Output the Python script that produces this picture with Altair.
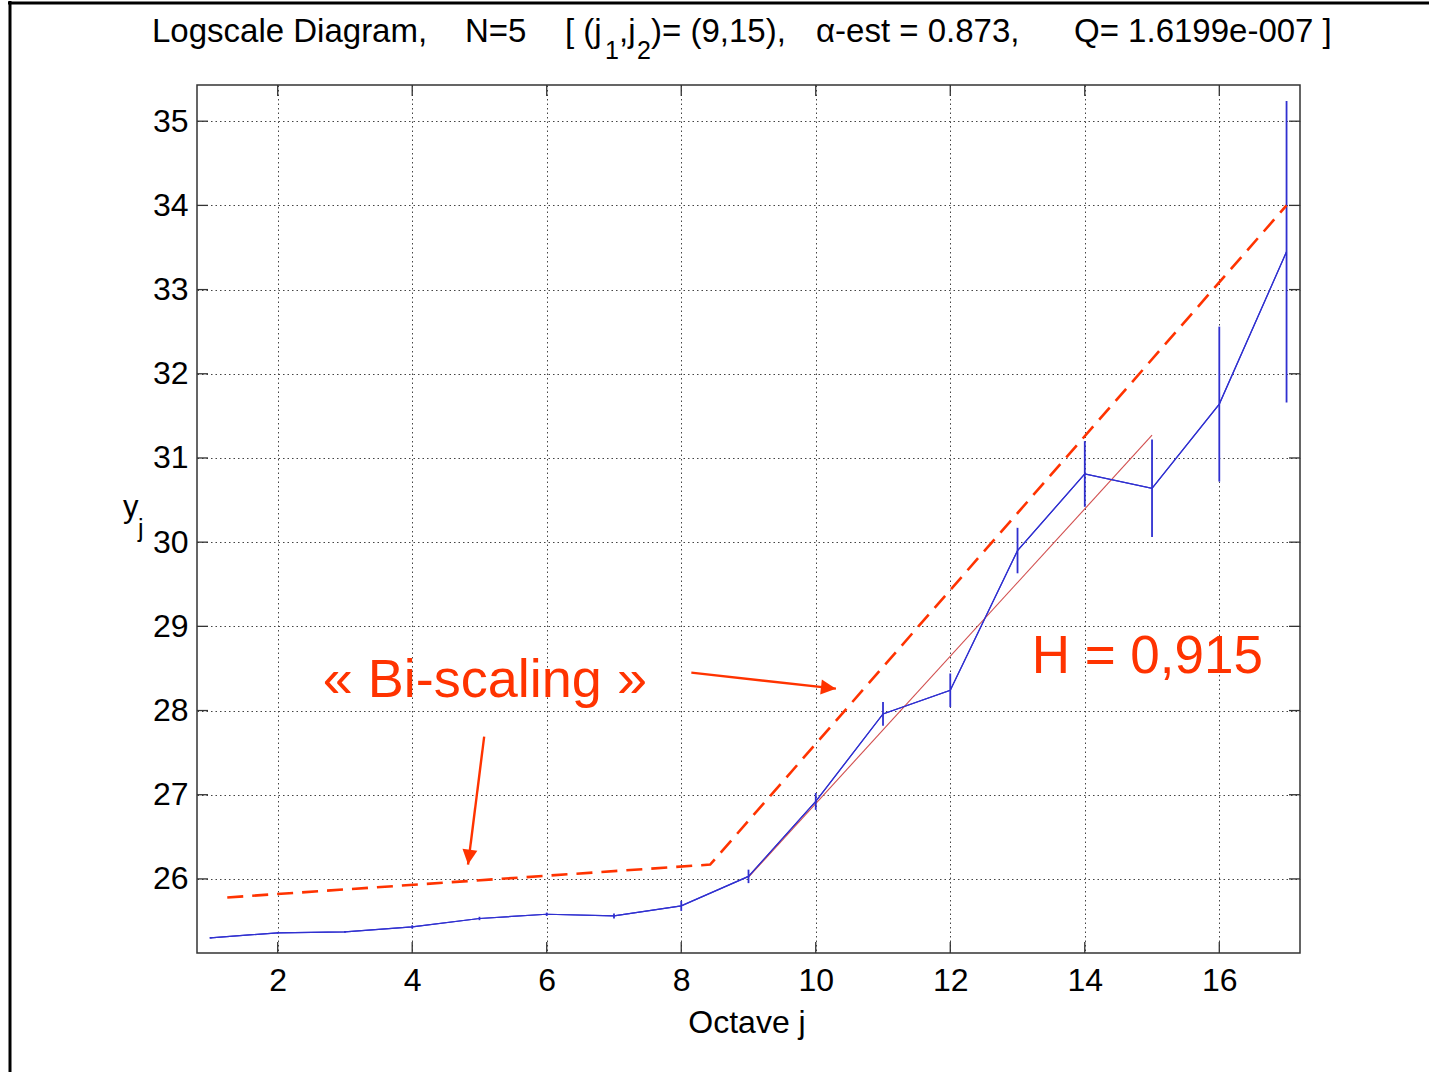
import altair as alt
import pandas as pd
import numpy as np

# ---------------- data ----------------
octave = list(range(1, 18))
yj = [25.30, 25.36, 25.37, 25.43, 25.53, 25.58, 25.56, 25.68, 26.03, 26.92,
      27.96, 28.24, 29.90, 30.81, 30.64, 31.64, 33.45]
yerr = [0.01, 0.01, 0.01, 0.02, 0.02, 0.02, 0.03, 0.06, 0.08, 0.10,
        0.14, 0.20, 0.27, 0.39, 0.58, 0.92, 1.79]

fit_j = [9, 15]
fit_y = [26.02, 31.27]

dash_j = [1.25, 8.43, 17.0]
dash_y = [25.78, 26.17, 34.0]

arrow_j0 = [5.07, 8.15]
arrow_y0 = [27.69, 28.45]
arrow_j1 = [4.83, 10.30]
arrow_y1 = [26.17, 28.26]

x_ticks = [2, 4, 6, 8, 10, 12, 14, 16]
y_ticks = [26, 27, 28, 29, 30, 31, 32, 33, 34, 35]

x_dom = [0.8, 17.2]
y_dom = [25.12, 35.43]

W, H = 1103, 868
RED = "#ff3300"
BLUE = "#3030d0"

xs = alt.Scale(domain=x_dom, nice=False, zero=False)
ys = alt.Scale(domain=y_dom, nice=False, zero=False)

main_df = pd.DataFrame({"j": octave, "y": yj,
                        "lo": np.array(yj) - np.array(yerr),
                        "hi": np.array(yj) + np.array(yerr)})

# base layer with axes / grid
base = alt.Chart(main_df).mark_line(color=BLUE, strokeWidth=1.2).encode(
    x=alt.X("j:Q", scale=xs, title=None,
            axis=alt.Axis(values=x_ticks, grid=True, labelPadding=12,
                          format="d")),
    y=alt.Y("y:Q", scale=ys, title=None,
            axis=alt.Axis(values=y_ticks, grid=True, labelPadding=9,
                          format="d")),
)

ebars = alt.Chart(main_df).mark_rule(color=BLUE, strokeWidth=1.8).encode(
    x=alt.X("j:Q", scale=xs),
    y=alt.Y("lo:Q", scale=ys),
    y2="hi:Q",
)

fit = alt.Chart(pd.DataFrame({"j": fit_j, "y": fit_y})).mark_line(
    color="#cc3a3a", strokeWidth=1.1, opacity=0.9
).encode(x=alt.X("j:Q", scale=xs), y=alt.Y("y:Q", scale=ys))

dashed = alt.Chart(pd.DataFrame({"j": dash_j, "y": dash_y})).mark_line(
    color=RED, strokeWidth=2.6, strokeDash=[16, 9]
).encode(x=alt.X("j:Q", scale=xs), y=alt.Y("y:Q", scale=ys))

# arrows
sx = W / (x_dom[1] - x_dom[0])
sy = H / (y_dom[1] - y_dom[0])
dxp = (np.array(arrow_j1) - np.array(arrow_j0)) * sx
dyp = -(np.array(arrow_y1) - np.array(arrow_y0)) * sy
ang = (np.degrees(np.arctan2(dxp, -dyp)) + 360) % 360
arr_df = pd.DataFrame({"j0": arrow_j0, "y0": arrow_y0, "j1": arrow_j1,
                       "y1": arrow_y1, "ang": ang})

arrow_lines = alt.Chart(arr_df).mark_rule(color=RED, strokeWidth=2.4).encode(
    x=alt.X("j0:Q", scale=xs), y=alt.Y("y0:Q", scale=ys),
    x2="j1:Q", y2="y1:Q",
)
arrow_heads = alt.Chart(arr_df).mark_point(
    shape="M0,0L0.5,1L-0.5,1Z", filled=True, size=900, color=RED, opacity=1
).encode(
    x=alt.X("j1:Q", scale=xs), y=alt.Y("y1:Q", scale=ys),
    angle=alt.Angle("ang:Q", scale=None),
)

# annotation texts
ann_df = pd.DataFrame({"j": [5.08, 14.93], "y": [28.16, 28.45],
                       "t": ["« Bi-scaling »", "H = 0,915"]})
bi_txt = alt.Chart(ann_df.iloc[[0]]).mark_text(
    color=RED, fontSize=54, font="Liberation Sans Narrow, Arial Narrow, Liberation Sans",
    align="center", baseline="alphabetic"
).encode(x=alt.X("j:Q", scale=xs), y=alt.Y("y:Q", scale=ys), text="t:N")
h_txt = alt.Chart(ann_df.iloc[[1]]).mark_text(
    color=RED, fontSize=53, font="Liberation Sans",
    align="center", baseline="alphabetic"
).encode(x=alt.X("j:Q", scale=xs), y=alt.Y("y:Q", scale=ys), text="t:N")

# inward ticks on all four sides
xt_df = pd.DataFrame({"j": x_ticks})
yt_df = pd.DataFrame({"y": y_ticks})
TK = 11
tick_col = "#333333"
t_bottom = alt.Chart(xt_df).mark_rule(color=tick_col, strokeWidth=1.3).encode(
    x=alt.X("j:Q", scale=xs), y=alt.value(H), y2=alt.value(H - TK))
t_top = alt.Chart(xt_df).mark_rule(color=tick_col, strokeWidth=1.3).encode(
    x=alt.X("j:Q", scale=xs), y=alt.value(0), y2=alt.value(TK))
t_left = alt.Chart(yt_df).mark_rule(color=tick_col, strokeWidth=1.3).encode(
    y=alt.Y("y:Q", scale=ys), x=alt.value(0), x2=alt.value(TK))
t_right = alt.Chart(yt_df).mark_rule(color=tick_col, strokeWidth=1.3).encode(
    y=alt.Y("y:Q", scale=ys), x=alt.value(W), x2=alt.value(W - TK))

# title segments (main text and subscripts)
title_parts = [
    ("Logscale Diagram,", -45, -43, 33),
    ("N=5", 268, -43, 33),
    ("[ (j", 368, -43, 33),
    ("1", 408, -26, 25),
    (",j", 422, -43, 33),
    ("2", 440, -26, 25),
    (")= (9,15),", 454, -43, 33),
    ("α-est = 0.873,", 619, -43, 33),
    ("Q= 1.6199e-007 ]", 877, -43, 33),
]
title_layers = []
for txt, px, py, fs in title_parts:
    title_layers.append(
        alt.Chart(pd.DataFrame({"t": [txt]})).mark_text(
            align="left", baseline="alphabetic", fontSize=fs,
            font="Liberation Sans", color="black"
        ).encode(x=alt.value(px), y=alt.value(py), text="t:N")
    )

# axis titles
xlab = alt.Chart(pd.DataFrame({"t": ["Octave j"]})).mark_text(
    align="center", baseline="alphabetic", fontSize=32,
    font="Liberation Sans", color="black"
).encode(x=alt.value(550), y=alt.value(948), text="t:N")
ylab_y = alt.Chart(pd.DataFrame({"t": ["y"]})).mark_text(
    align="left", baseline="alphabetic", fontSize=31,
    font="Liberation Sans", color="black"
).encode(x=alt.value(-74), y=alt.value(432), text="t:N")
ylab_j = alt.Chart(pd.DataFrame({"t": ["j"]})).mark_text(
    align="left", baseline="alphabetic", fontSize=25,
    font="Liberation Sans", color="black"
).encode(x=alt.value(-59), y=alt.value(452), text="t:N")

# outer figure frame (left and top edges)
one = pd.DataFrame({"a": [0]})
frame_top = alt.Chart(one).mark_rule(color="black", strokeWidth=3).encode(
    x=alt.value(-189), x2=alt.value(1232), y=alt.value(-82))
frame_left = alt.Chart(one).mark_rule(color="black", strokeWidth=3).encode(
    x=alt.value(-187), y=alt.value(-84), y2=alt.value(990))

chart = alt.layer(
    base, fit, ebars, base.encode(), dashed, arrow_lines, arrow_heads,
    bi_txt, h_txt, t_bottom, t_top, t_left, t_right,
    *title_layers, xlab, ylab_y, ylab_j, frame_top, frame_left
).properties(
    width=W, height=H,
    autosize=alt.AutoSizeParams(type="none"),
    padding={"left": 197, "top": 85, "right": 129, "bottom": 119},
).configure(background="white").configure_view(
    stroke="#333333", strokeWidth=1.5
).configure_axis(
    domain=False, ticks=False, tickSize=0,
    gridColor="#444444", gridDash=[1.5, 3], gridWidth=1, gridOpacity=1,
    labelFont="Liberation Sans", labelFontSize=32, labelColor="black",
)

chart.save("out.html", embed_options={"renderer": "svg", "actions": False})
